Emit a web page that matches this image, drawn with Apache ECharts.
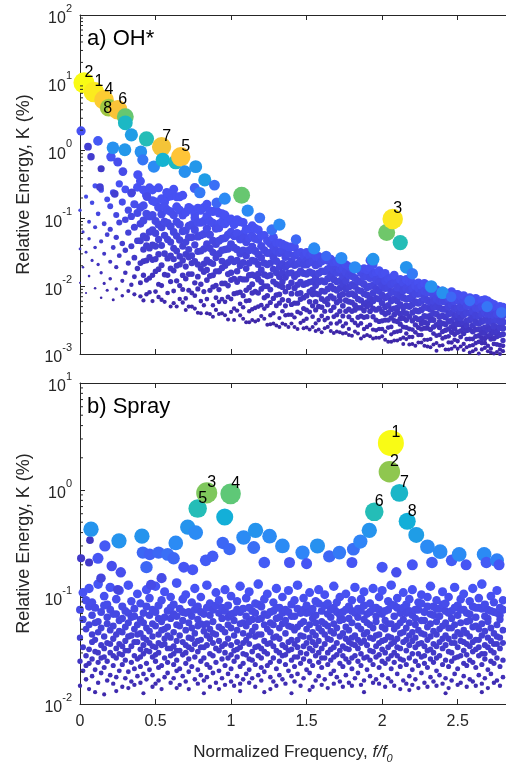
<!DOCTYPE html>
<html><head><meta charset="utf-8">
<script src="https://cdn.jsdelivr.net/npm/echarts@6/dist/echarts.min.js"></script>
<style>html,body{margin:0;padding:0;background:#fff}#c{width:506px;height:766px}</style>
</head><body><div id="c"></div>
<script>
// ---------------- DATA ----------------
const panelTitles = ['a) OH*', 'b) Spray'];
const xTickLabels = ['0', '0.5', '1', '1.5', '2', '2.5'];
const freqResolution = 0.02; // spectral bin width of the mode cloud (f/f0)

// OH*: log10 of mode energy (%) per frequency bin (bin i at f = i*freqResolution)
const ohCloudLogE = [
[-0.88,-1.45,-1.95],[-1.2,-1.72],[-0.68,-1.5,-2.1],[-1.05,-1.3,-1.85],[-0.77,-1.62],[-0.52,-1.13,-1.43,-2.03],[-0.93,-1.68],[-0.58,-1.34,-1.8,-2.17],[-1.08,-1.52,-1.96],[-0.72,-1.24,-2.06],
[-0.82,-1.16,-1.64,-1.89],[-0.62,-1.43,-2.2],[-0.95,-1.28,-1.72,-2.04],[-0.49,-1.06,-1.55],[-0.76,-1.37,-1.92,-2.14],[-0.57,-1.02,-1.47,-1.8],[-0.88,-1.21,-1.66,-2.07],[-0.63,-0.97,-1.41,-1.98],[-0.79,-1.13,-1.58,-1.86,-2.12],[-0.54,-0.92,-1.33,-1.74],
[-0.45,-0.84,-1.08,-1.33,-1.66,-1.95,-2.15],[-0.58,-0.81,-1.26,-1.46,-1.84,-2.21,-1.03,-1.63],[-0.65,-0.93,-1.29,-1.4,-1.91,-1.62,-2.12],[-0.55,-0.97,-1.44,-1.57,-1.88,-2.09,-1.2],[-0.58,-0.74,-1.17,-1.61,-1.84,-2.22,-1.39,-0.95],[-0.76,-1.04,-1.41,-1.78,-2.08,-1.22,-1.6],[-0.55,-0.84,-1.09,-1.53,-1.75,-2.16,-1.31,-1.97],[-0.71,-0.94,-1.13,-1.69,-1.99,-1.4,-2.2],[-0.76,-0.83,-1.25,-1.83,-2.23,-1.05,-1.52],[-0.68,-1.07,-1.31,-1.59,-2.1,-1.84,-0.88],
[-0.67,-0.9,-1.35,-1.55,-1.93,-2.3,-1.12,-1.74],[-0.57,-0.95,-1.2,-1.44,-1.77,-2.07,-1.6,-2.25],[-0.68,-0.83,-1.26,-1.7,-1.92,-2.3,-1.05,-1.48],[-0.68,-1.09,-1.56,-1.68,-1.99,-2.19,-1.32,-0.88],[-0.66,-0.95,-1.19,-1.62,-1.84,-2.24,-1.41,-2.05],[-0.91,-1.18,-1.53,-1.89,-2.18,-1.35,-1.71,-2.35],[-0.84,-1.11,-1.46,-1.57,-2.06,-1.28,-1.82,-2.3],[-0.87,-1.09,-1.28,-1.82,-2.1,-1.55,-1.66,-2.3],[-0.93,-0.99,-1.39,-1.95,-2.33,-1.17,-1.63,-2.14],[-0.85,-1.06,-1.49,-1.68,-2.04,-2.39,-1.27,-1.86],
[-0.88,-1.25,-1.48,-1.74,-2.22,-1.06,-1.97,-2.4],[-0.84,-1.23,-1.67,-1.79,-2.08,-2.28,-1.04,-1.45],[-0.79,-1.15,-1.38,-1.61,-1.91,-2.19,-0.97,-1.76,-2.4],[-0.89,-1.04,-1.44,-1.85,-2.06,-2.41,-1.24,-1.65],[-1.07,-1.33,-1.67,-2.01,-2.28,-0.9,-1.5,-1.84,-2.45],[-0.88,-1.15,-1.38,-1.78,-1.99,-2.35,-1.58,-2.17],[-1.08,-1.14,-1.52,-2.05,-2.41,-0.92,-1.33,-1.78,-2.23],[-1.05,-1.3,-1.63,-1.73,-2.19,-0.93,-1.47,-1.96,-2.4],[-1.08,-1.29,-1.46,-1.96,-2.23,-0.95,-1.7,-2.43],[-1.04,-1.24,-1.65,-1.82,-2.16,-2.49,-1.45,-1.99],
[-1.01,-1.38,-1.8,-1.91,-2.19,-2.38,-1.2,-1.6],[-1.09,-1.43,-1.64,-1.89,-2.33,-1.26,-2.11,-2.5],[-1.22,-1.46,-1.78,-2.1,-2.36,-1.02,-1.62,-1.94],[-1.05,-1.31,-1.52,-1.89,-2.09,-2.43,-1.7,-2.26],[-1.23,-1.29,-1.65,-2.14,-2.48,-1.06,-1.47,-1.9,-2.31],[-1.16,-1.35,-1.74,-1.9,-2.22,-2.53,-1.55,-2.06],[-1.16,-1.29,-1.66,-2.02,-2.21,-2.53,-1.47,-1.84,-2.37],[-1.11,-1.42,-1.62,-1.83,-2.1,-2.34,-1.26,-1.97,-2.5],[-1.3,-1.48,-1.63,-2.08,-2.32,-1.15,-1.85,-2.52],[-1.31,-1.53,-1.82,-1.9,-2.3,-1.17,-1.68,-2.1,-2.5],
[-1.25,-1.58,-1.94,-2.04,-2.28,-2.44,-1.41,-1.76],[-1.25,-1.47,-1.66,-2.0,-2.17,-2.48,-1.83,-2.33],[-1.33,-1.51,-1.85,-2.0,-2.29,-2.57,-1.68,-2.14],[-1.37,-1.66,-1.84,-2.05,-2.43,-1.51,-2.24,-2.56],[-1.28,-1.57,-1.75,-1.93,-2.18,-2.4,-1.42,-2.55],[-1.36,-1.48,-1.8,-2.13,-2.29,-2.58,-1.63,-1.97],[-1.51,-1.72,-1.99,-2.25,-2.47,-1.36,-1.86,-2.12,-2.6],[-1.47,-1.67,-1.93,-2.01,-2.37,-1.38,-1.8,-2.2,-2.55],[-1.52,-1.57,-1.87,-2.29,-2.57,-1.4,-1.72,-2.08,-2.43],[-1.52,-1.68,-1.81,-2.21,-2.42,-1.42,-2.01,-2.6],
[-1.42,-1.63,-1.8,-2.11,-2.27,-2.55,-1.95,-2.42],[-1.42,-1.69,-1.86,-2.03,-2.25,-2.46,-1.55,-2.6],[-1.51,-1.67,-1.98,-2.11,-2.38,-2.63,-1.82,-2.25],[-1.5,-1.78,-2.1,-2.19,-2.4,-2.54,-1.62,-1.94],[-1.55,-1.81,-1.98,-2.17,-2.51,-1.68,-2.33,-2.62],[-1.63,-1.68,-1.96,-2.35,-2.61,-1.82,-2.14,-2.48,-1.5],[-1.55,-1.65,-1.94,-2.23,-2.38,-2.64,-1.79,-2.08],[-1.63,-1.81,-2.05,-2.12,-2.45,-1.52,-1.93,-2.29,-2.6],[-1.69,-1.87,-2.11,-2.35,-2.55,-1.56,-1.99,-2.23,-2.66],[-1.67,-1.81,-1.94,-2.3,-2.5,-2.12,-2.64,-1.56],
[-1.63,-1.78,-2.07,-2.19,-2.44,-2.68,-1.92,-2.31],[-1.59,-1.78,-1.94,-2.22,-2.37,-2.62,-2.08,-2.5],[-1.62,-1.89,-2.19,-2.27,-2.47,-2.6,-1.75,-2.04],[-1.6,-1.84,-2.0,-2.15,-2.36,-2.55,-1.72,-2.66],[-1.66,-1.76,-2.04,-2.31,-2.45,-2.69,-1.9,-2.18],[-1.76,-1.8,-2.06,-2.42,-2.67,-1.63,-1.93,-2.24,-2.55],[-1.75,-1.92,-2.14,-2.21,-2.52,-1.66,-2.03,-2.37,-2.68],[-1.73,-1.97,-2.12,-2.29,-2.59,-1.85,-2.44,-2.7],[-1.79,-1.92,-2.04,-2.37,-2.55,-1.68,-2.21,-2.69],[-1.84,-2.01,-2.23,-2.45,-2.63,-1.71,-2.12,-2.34,-2.72],
[-1.75,-1.85,-2.11,-2.37,-2.5,-2.73,-1.98,-2.24],[-1.75,-2.0,-2.28,-2.35,-2.54,-2.67,-1.88,-2.14],[-1.74,-1.92,-2.06,-2.32,-2.46,-2.7,-2.19,-2.58],[-1.8,-1.94,-2.21,-2.32,-2.55,-2.77,-2.07,-2.44],[-1.74,-1.97,-2.11,-2.26,-2.46,-2.63,-1.86,-2.36,-2.74],[-1.85,-2.02,-2.24,-2.3,-2.6,-1.76,-2.13,-2.45,-2.72],[-1.73,-1.88,-2.0,-2.37,-2.57,-2.18,-2.27,-2.74,-1.62],[-1.82,-1.99,-2.22,-2.45,-2.64,-1.68,-2.1,-2.33,-2.77],[-1.8,-2.04,-2.18,-2.35,-2.65,-1.91,-2.5,-2.76],[-1.9,-1.94,-2.19,-2.52,-2.76,-1.77,-2.07,-2.33,-2.63],
[-1.82,-1.99,-2.13,-2.38,-2.51,-2.74,-2.25,-2.63],[-1.81,-2.03,-2.17,-2.31,-2.5,-2.67,-1.92,-2.41,-2.79],[-1.89,-2.02,-2.28,-2.39,-2.61,-2.82,-2.15,-2.5],[-1.88,-1.97,-2.22,-2.47,-2.6,-2.82,-2.09,-2.34,-2.71],[-1.95,-2.08,-2.19,-2.51,-2.68,-1.84,-2.33,-2.42,-2.8],[-1.95,-2.11,-2.32,-2.38,-2.67,-2.02,-2.22,-2.52,-2.8],[-1.9,-2.14,-2.41,-2.48,-2.66,-2.78,-2.02,-2.27,-2.56],[-1.95,-2.17,-2.31,-2.47,-2.76,-2.06,-2.39,-2.6,-2.85],[-2.03,-2.19,-2.4,-2.61,-2.78,-1.9,-2.29,-2.5,-2.7],[-2.02,-2.06,-2.3,-2.63,-2.86,-1.93,-2.18,-2.45,-2.75],
[-1.95,-2.03,-2.27,-2.51,-2.64,-2.85,-2.15,-2.39,-2.75],[-1.99,-2.11,-2.36,-2.47,-2.68,-2.88,-2.23,-2.57],[-1.95,-2.11,-2.25,-2.49,-2.61,-2.83,-2.37,-2.72,-2.03],[-1.99,-2.22,-2.48,-2.55,-2.72,-2.83,-2.1,-2.35,-2.63],[-1.96,-2.17,-2.31,-2.44,-2.62,-2.79,-2.07,-2.53,-2.88],[-2.09,-2.21,-2.32,-2.62,-2.79,-1.99,-2.45,-2.55,-2.89],[-2.09,-2.24,-2.44,-2.5,-2.78,-2.0,-2.34,-2.64,-2.9],[-2.14,-2.3,-2.5,-2.7,-2.86,-2.03,-2.22,-2.4,-2.6],[-2.14,-2.18,-2.41,-2.73,-2.95,-2.05,-2.3,-2.57,-2.84],[-2.11,-2.32,-2.45,-2.61,-2.88,-2.22,-2.53,-2.72],
[-2.07,-2.22,-2.34,-2.55,-2.67,-2.87,-2.44,-2.77],[-2.12,-2.23,-2.46,-2.56,-2.75,-2.93,-2.34,-2.65],[-2.11,-2.19,-2.41,-2.63,-2.74,-2.93,-2.3,-2.52,-2.83],[-2.08,-2.27,-2.39,-2.51,-2.68,-2.83,-2.17,-2.6,-2.92],[-2.12,-2.33,-2.57,-2.63,-2.79,-2.89,-2.22,-2.45,-2.71],[-2.19,-2.33,-2.51,-2.56,-2.81,-2.12,-2.42,-2.68,-2.92],[-2.24,-2.38,-2.56,-2.75,-2.89,-2.15,-2.31,-2.47,-2.66],[-2.22,-2.33,-2.42,-2.7,-2.85,-2.14,-2.55,-2.62,-2.94],[-2.2,-2.39,-2.51,-2.65,-2.9,-2.29,-2.58,-2.78],[-2.25,-2.29,-2.5,-2.78,-2.98,-2.17,-2.4,-2.64,-2.88],
[-2.19,-2.26,-2.47,-2.67,-2.78,-2.96,-2.37,-2.58,-2.87],[-2.18,-2.32,-2.43,-2.64,-2.74,-2.93,-2.53,-2.84],[-2.23,-2.33,-2.55,-2.64,-2.82,-2.99,-2.44,-2.73],[-2.21,-2.41,-2.63,-2.69,-2.84,-2.93,-2.3,-2.52,-2.77],[-2.2,-2.38,-2.5,-2.61,-2.77,-2.91,-2.29,-2.69,-2.84],[-2.29,-2.42,-2.6,-2.64,-2.88,-2.22,-2.51,-2.74,-2.96],[-2.32,-2.43,-2.52,-2.78,-2.92,-2.25,-2.64,-2.71,-2.98],[-2.37,-2.5,-2.68,-2.85,-2.99,-2.27,-2.43,-2.59,-2.77],[-2.32,-2.5,-2.61,-2.74,-2.97,-2.41,-2.67,-2.86],[-2.38,-2.42,-2.61,-2.87,-3.0,-2.3,-2.52,-2.72,-2.93],
[-2.31,-2.43,-2.53,-2.71,-2.8,-2.96,-2.62,-2.88]
];

// Spray: log10 of mode energy (%) per frequency bin
const spCloudLogE = [
[-1.12,-1.38,-1.6,-1.83],[-0.96,-1.21,-1.47,-1.69],[-1.03,-1.3,-1.55,-1.64,-1.77],[-0.92,-1.09,-1.26,-1.49,-1.62,-1.86],[-1.05,-1.17,-1.35,-1.42,-1.58,-1.74],[-1.1,-1.24,-1.4,-1.51,-1.68,-1.89],[-0.88,-1.23,-1.33,-1.52,-1.61,-1.8],[-1.14,-1.29,-1.45,-1.57,-1.71],[-0.99,-1.08,-1.37,-1.48,-1.56,-1.66,-1.91],[-1.07,-1.19,-1.25,-1.43,-1.6,-1.78],
[-0.91,-1.12,-1.31,-1.44,-1.52,-1.73],[-1.16,-1.27,-1.39,-1.55,-1.64,-1.81],[-1.02,-1.16,-1.35,-1.48,-1.57,-1.75,-1.88],[-0.94,-1.22,-1.32,-1.44,-1.53,-1.69],[-1.09,-1.2,-1.33,-1.46,-1.54,-1.63,-1.84],[-1.13,-1.28,-1.41,-1.5,-1.59,-1.76],[-0.89,-1.15,-1.24,-1.37,-1.5,-1.7,-1.85],[-1.04,-1.19,-1.36,-1.46,-1.61,-1.79],[-1.11,-1.18,-1.3,-1.42,-1.55,-1.67,-1.82],[-0.97,-1.26,-1.35,-1.42,-1.58,-1.74],
[-1.06,-1.21,-1.34,-1.49,-1.56,-1.65,-1.8],[-1.15,-1.24,-1.38,-1.45,-1.53,-1.72,-1.9],[-0.93,-1.09,-1.29,-1.4,-1.5,-1.62,-1.77],[-1.01,-1.17,-1.32,-1.43,-1.51,-1.68],[-1.12,-1.25,-1.37,-1.46,-1.56,-1.73,-1.84],[-0.9,-1.14,-1.27,-1.47,-1.54,-1.6,-1.81],[-1.08,-1.2,-1.35,-1.43,-1.52,-1.66,-1.78],[-1.03,-1.23,-1.31,-1.45,-1.64,-1.86],[-0.95,-1.19,-1.3,-1.39,-1.44,-1.57,-1.75],[-1.13,-1.28,-1.36,-1.48,-1.61,-1.71],
[-1.0,-1.1,-1.2,-1.38,-1.48,-1.55,-1.8],[-1.07,-1.16,-1.33,-1.46,-1.53,-1.63,-1.76],[-0.87,-1.18,-1.26,-1.41,-1.5,-1.59,-1.69,-1.85],[-1.11,-1.27,-1.36,-1.5,-1.67,-1.82],[-1.02,-1.14,-1.22,-1.42,-1.54,-1.74],[-0.98,-1.15,-1.31,-1.45,-1.52,-1.62,-1.79],[-1.14,-1.24,-1.38,-1.47,-1.58,-1.7,-1.86],[-1.05,-1.18,-1.29,-1.39,-1.49,-1.65],[-0.92,-1.12,-1.34,-1.44,-1.56,-1.77],[-1.09,-1.21,-1.27,-1.41,-1.51,-1.68,-1.81],
[-1.0,-1.14,-1.25,-1.4,-1.47,-1.6,-1.73],[-1.16,-1.26,-1.32,-1.47,-1.57,-1.78,-1.9],[-0.89,-1.1,-1.25,-1.36,-1.45,-1.63,-1.75],[-1.06,-1.17,-1.3,-1.39,-1.53,-1.66,-1.84],[-1.12,-1.23,-1.34,-1.43,-1.55,-1.71],[-0.96,-1.08,-1.35,-1.48,-1.61,-1.8],[-1.03,-1.15,-1.28,-1.41,-1.5,-1.69,-1.86],[-1.1,-1.2,-1.3,-1.46,-1.58,-1.76],[-0.93,-1.13,-1.33,-1.44,-1.52,-1.64,-1.82],[-1.08,-1.19,-1.26,-1.39,-1.57,-1.72],
[-0.99,-1.16,-1.29,-1.45,-1.54,-1.67,-1.79],[-1.15,-1.22,-1.36,-1.5,-1.6,-1.83],[-1.04,-1.12,-1.31,-1.42,-1.49,-1.56,-1.74],[-0.9,-1.14,-1.25,-1.47,-1.65,-1.81,-1.88],[-1.11,-1.24,-1.34,-1.43,-1.53,-1.62,-1.77],[-1.01,-1.18,-1.27,-1.4,-1.54,-1.72],[-0.95,-1.1,-1.23,-1.36,-1.44,-1.58,-1.68,-1.8],[-1.13,-1.21,-1.32,-1.51,-1.59,-1.76],[-1.06,-1.15,-1.28,-1.37,-1.47,-1.63,-1.84],[-0.88,-1.07,-1.21,-1.35,-1.46,-1.55,-1.73],
[-1.09,-1.2,-1.35,-1.48,-1.57,-1.66,-1.78],[-1.02,-1.16,-1.26,-1.41,-1.51,-1.7,-1.89],[-0.97,-1.17,-1.3,-1.44,-1.53,-1.64],[-1.14,-1.24,-1.33,-1.43,-1.61,-1.75,-1.86],[-1.05,-1.13,-1.26,-1.38,-1.46,-1.57,-1.79],[-0.92,-1.1,-1.2,-1.37,-1.5,-1.67,-1.83],[-1.1,-1.19,-1.29,-1.39,-1.52,-1.6,-1.73],[-1.0,-1.15,-1.25,-1.45,-1.55,-1.77],[-1.12,-1.22,-1.34,-1.47,-1.54,-1.63,-1.81],[-0.94,-1.14,-1.27,-1.42,-1.5,-1.69],
[-1.07,-1.18,-1.28,-1.4,-1.49,-1.59,-1.74,-1.9],[-1.03,-1.18,-1.31,-1.44,-1.56,-1.65,-1.79],[-0.89,-1.11,-1.28,-1.4,-1.47,-1.56,-1.72],[-1.15,-1.25,-1.36,-1.52,-1.62,-1.83],[-1.01,-1.12,-1.23,-1.37,-1.46,-1.58,-1.76],[-1.08,-1.15,-1.3,-1.43,-1.53,-1.68],[-0.96,-1.14,-1.26,-1.38,-1.48,-1.6,-1.71,-1.87],[-1.11,-1.2,-1.33,-1.42,-1.5,-1.64,-1.84],[-1.04,-1.17,-1.24,-1.36,-1.45,-1.55,-1.78],[-0.93,-1.06,-1.29,-1.41,-1.52,-1.61,-1.74],
[-1.13,-1.23,-1.32,-1.48,-1.57,-1.66,-1.82],[-0.98,-1.08,-1.25,-1.35,-1.44,-1.57,-1.77],[-1.06,-1.16,-1.27,-1.39,-1.52,-1.63,-1.85],[-1.12,-1.19,-1.32,-1.4,-1.49,-1.59,-1.72],[-0.9,-1.1,-1.25,-1.34,-1.47,-1.56,-1.69,-1.81],[-1.05,-1.14,-1.29,-1.43,-1.54,-1.75],[-1.0,-1.17,-1.22,-1.37,-1.5,-1.62,-1.79],[-1.14,-1.21,-1.34,-1.46,-1.55,-1.65,-1.84],[-0.97,-1.12,-1.28,-1.39,-1.48,-1.58,-1.73],[-1.09,-1.2,-1.31,-1.42,-1.49,-1.61,-1.8],
[-1.03,-1.13,-1.24,-1.38,-1.44,-1.57,-1.67,-1.83],[-0.91,-1.15,-1.36,-1.45,-1.55,-1.76],[-1.11,-1.19,-1.27,-1.4,-1.48,-1.6,-1.71],[-1.02,-1.13,-1.3,-1.43,-1.53,-1.64,-1.82],[-0.95,-1.08,-1.21,-1.35,-1.41,-1.57,-1.78,-1.89],[-1.16,-1.24,-1.33,-1.45,-1.56,-1.68],[-1.06,-1.14,-1.26,-1.38,-1.5,-1.59,-1.74],[-0.92,-1.11,-1.29,-1.39,-1.51,-1.63,-1.8],[-1.1,-1.18,-1.23,-1.36,-1.46,-1.56,-1.77],[-1.0,-1.12,-1.35,-1.43,-1.54,-1.66,-1.81],
[-0.94,-1.16,-1.28,-1.41,-1.49,-1.6,-1.73],[-1.13,-1.22,-1.3,-1.4,-1.52,-1.62,-1.84],[-1.04,-1.12,-1.25,-1.37,-1.47,-1.58,-1.76],[-0.89,-1.07,-1.25,-1.38,-1.44,-1.55,-1.67,-1.79],[-1.08,-1.18,-1.3,-1.42,-1.52,-1.61,-1.83],[-1.01,-1.1,-1.27,-1.39,-1.47,-1.55,-1.72],[-1.15,-1.24,-1.34,-1.48,-1.58,-1.65,-1.86],[-0.96,-1.1,-1.21,-1.33,-1.42,-1.59,-1.78],[-1.07,-1.15,-1.29,-1.4,-1.5,-1.63,-1.81],[-1.02,-1.13,-1.24,-1.36,-1.45,-1.57,-1.74,-1.87],
[-0.93,-1.17,-1.33,-1.41,-1.53,-1.68,-1.82],[-1.12,-1.2,-1.26,-1.38,-1.47,-1.6,-1.77],[-1.05,-1.12,-1.31,-1.44,-1.53,-1.64,-1.85],[-0.98,-1.06,-1.22,-1.34,-1.43,-1.56,-1.71],[-1.14,-1.22,-1.35,-1.46,-1.55,-1.62,-1.8],[-1.0,-1.09,-1.28,-1.4,-1.5,-1.66,-1.84],[-0.9,-1.16,-1.25,-1.37,-1.49,-1.58,-1.75],[-1.09,-1.17,-1.32,-1.44,-1.52,-1.61,-1.79],[-1.03,-1.11,-1.23,-1.35,-1.46,-1.57,-1.69,-1.83],[-1.11,-1.18,-1.3,-1.42,-1.55,-1.73],
[-0.95,-1.07,-1.27,-1.39,-1.48,-1.63,-1.81],[-1.06,-1.13,-1.24,-1.36,-1.45,-1.59,-1.76,-1.9],[-1.0,-1.15,-1.29,-1.39,-1.51,-1.65,-1.85],[-1.13,-1.2,-1.29,-1.43,-1.52,-1.6,-1.78],[-0.91,-1.1,-1.26,-1.37,-1.43,-1.57,-1.72],[-1.08,-1.17,-1.33,-1.47,-1.56,-1.67,-1.82],[-1.02,-1.12,-1.24,-1.35,-1.41,-1.55,-1.8],[-0.97,-1.12,-1.31,-1.42,-1.5,-1.62,-1.74],[-1.15,-1.23,-1.34,-1.44,-1.54,-1.64,-1.84],[-1.04,-1.16,-1.22,-1.37,-1.46,-1.59,-1.77],
[-0.92,-1.09,-1.28,-1.42,-1.51,-1.61,-1.79],[-1.1,-1.19,-1.27,-1.4,-1.49,-1.66,-1.83],[-1.01,-1.1,-1.3,-1.4,-1.47,-1.55,-1.73],[-0.88,-1.11,-1.25,-1.36,-1.53,-1.63,-1.81,-1.89],[-1.07,-1.18,-1.32,-1.45,-1.53,-1.58,-1.76],[-1.12,-1.2,-1.23,-1.38,-1.47,-1.68,-1.85],[-0.99,-1.13,-1.29,-1.41,-1.5,-1.6,-1.72],[-1.05,-1.14,-1.34,-1.44,-1.52,-1.62,-1.8],[-0.94,-1.15,-1.26,-1.37,-1.44,-1.57,-1.78],[-1.1,-1.17,-1.21,-1.38,-1.48,-1.65,-1.83],
[-1.03,-1.12,-1.31,-1.43,-1.59,-1.75]
];

// Leading / highlighted modes: frequency, energy (%), colour value (0-1)
const ohLeadF = [0.007,0.026,0.053,0.073,0.092,0.119,0.132,0.14,0.159,0.19,0.205,0.218,0.23,0.25,0.25,0.284,0.297,0.30,0.30,0.34,0.343,0.383,0.403,0.416,0.44,0.443,0.489,0.54,0.548,0.575,0.634,0.667,0.694,0.76,0.766,0.793,0.826,0.89,0.905,0.958,1.07,1.11,1.19,1.27,1.32,1.43,1.55,1.63,1.73,1.82,1.94,2.03,2.07,2.12,2.16,2.20,2.325,2.40,2.457,2.58,2.695,2.79];
const ohLeadE = [1.95,10.0,1.14,0.81,7.3,1.39,0.29,0.54,5.6,4.3,0.81,1.1,0.23,4.0,0.68,0.49,1.03,3.15,2.57,1.71,0.24,0.44,0.96,0.73,1.49,0.21,0.58,1.14,0.73,0.24,0.68,0.81,0.49,0.28,0.58,0.24,0.37,0.31,0.17,0.195,0.22,0.13,0.102,0.068,0.081,0.049,0.036,0.028,0.026,0.019,0.025,0.062,0.098,0.044,0.019,0.0153,0.0099,0.008,0.007,0.0061,0.005,0.0041];
const ohLeadC = [0.14,1.0,0.08,0.07,0.96,0.16,0.08,0.06,0.88,0.70,0.15,0.32,0.08,0.85,0.13,0.12,0.34,0.63,0.47,0.36,0.10,0.14,0.32,0.24,0.50,0.12,0.30,0.84,0.44,0.14,0.47,0.86,0.32,0.18,0.34,0.25,0.36,0.22,0.20,0.30,0.63,0.30,0.22,0.22,0.30,0.20,0.30,0.20,0.30,0.30,0.33,0.64,0.95,0.50,0.33,0.25,0.32,0.32,0.20,0.22,0.24,0.22];
const ohModeAt = {1:2, 4:1, 8:4, 9:8, 13:6, 27:7, 31:5, 52:3}; // lead index -> mode number

const spLeadF = [0.007,0.06,0.066,0.073,0.119,0.139,0.165,0.21,0.25,0.258,0.27,0.41,0.416,0.44,0.462,0.47,0.52,0.54,0.58,0.62,0.634,0.687,0.713,0.746,0.766,0.779,0.832,0.839,0.878,0.945,0.958,0.99,0.997,1.083,1.15,1.162,1.22,1.255,1.34,1.387,1.473,1.5,1.572,1.65,1.717,1.80,1.81,1.856,1.915,1.948,2.0,2.058,2.048,2.094,2.114,2.166,2.2,2.226,2.30,2.33,2.384,2.46,2.51,2.556,2.675,2.69,2.76,2.774];
const spLeadE = [0.23,0.21,0.34,0.43,0.23,0.15,0.30,0.195,0.117,0.335,0.17,0.37,0.26,0.19,0.25,0.13,0.26,0.15,0.25,0.23,0.32,0.19,0.45,0.18,0.40,0.67,0.22,0.94,0.24,0.32,0.56,0.28,0.92,0.36,0.29,0.42,0.21,0.37,0.30,0.21,0.26,0.205,0.30,0.24,0.26,0.21,0.28,0.33,0.42,0.625,0.19,2.75,1.48,0.17,0.94,0.51,0.20,0.38,0.295,0.21,0.265,0.22,0.25,0.20,0.25,0.21,0.22,0.20];
const spLeadC = [0.06,0.06,0.05,0.33,0.15,0.10,0.16,0.13,0.10,0.33,0.13,0.33,0.20,0.20,0.18,0.12,0.20,0.12,0.22,0.20,0.30,0.15,0.33,0.15,0.30,0.50,0.17,0.66,0.17,0.20,0.42,0.20,0.62,0.30,0.22,0.33,0.17,0.30,0.30,0.15,0.28,0.15,0.32,0.20,0.25,0.15,0.22,0.28,0.33,0.50,0.15,1.0,0.68,0.13,0.46,0.42,0.15,0.36,0.30,0.17,0.30,0.17,0.30,0.15,0.30,0.17,0.27,0.15];
const spModeAt = {25:5, 27:3, 32:4, 49:6, 51:1, 52:2, 54:7, 55:8};

// ---------------- STYLE / HELPERS ----------------
const FONT = "'Liberation Sans', Arial, Helvetica, sans-serif";
const AX = '#262626';
const PARULA = [[0.2422,0.1504,0.6603],[0.2810,0.3228,0.9579],[0.1786,0.5289,0.9682],[0.0689,0.6948,0.8394],[0.2161,0.7843,0.5923],[0.6720,0.7793,0.2227],[0.9970,0.7659,0.2199],[0.9769,0.9839,0.0805]];
function parula(c) {
  c = Math.max(0, Math.min(1, c));
  const s = c * (PARULA.length - 1), i = Math.min(PARULA.length - 2, Math.floor(s)), t = s - i;
  const a = PARULA[i], b = PARULA[i + 1];
  const r = x => Math.round(255 * x);
  return 'rgb(' + r(a[0] + (b[0]-a[0])*t) + ',' + r(a[1] + (b[1]-a[1])*t) + ',' + r(a[2] + (b[2]-a[2])*t) + ')';
}
function clamp(v, a, b) { return Math.max(a, Math.min(b, v)); }
function ohCloudT(f, E) {
  const lo = -2.15 - 0.3 * f, hi = -0.4 - 0.68 * f;
  return clamp((Math.log10(E) - lo) / (hi - lo), 0, 1);
}
function ohCloudSize(f, E) {
  let s = 4 + 5 * ohCloudT(f, E);
  if (f < 0.4) s *= 0.45 + 0.55 * f / 0.4;
  return s;
}
function spCloudC(E) { return clamp((Math.log10(E) + 1.95) * 0.14, 0, 0.16); }

function cloudData(cols) {
  const out = [];
  cols.forEach((col, i) => col.forEach(v => out.push([+(i * freqResolution).toFixed(2), +Math.pow(10, v).toPrecision(3)])));
  return out;
}
function leadData(F, E, C, modeAt, defOffset, offsets) {
  return F.map((f, i) => {
    const m = modeAt[i] || 0;
    const item = { value: [f, E[i], C[i], m] };
    if (m) item.label = { show: true, offset: offsets[m] || defOffset };
    return item;
  });
}
function minorTicks(lo, hi) {
  const out = [];
  for (let d = lo; d < hi; d++) for (let k = 2; k <= 9; k++) out.push([0, +(k * Math.pow(10, d)).toPrecision(3)]);
  return out;
}
const labelStyle = { show: false, position: 'inside', formatter: p => p.value[3] ? String(p.value[3]) : '', fontSize: 16, color: '#000', fontFamily: FONT };

const yLabel = {
  formatter: v => '{b|10}{s|' + Math.round(Math.log10(v)) + '}',
  margin: 8,
  rich: {
    b: { fontSize: 16, color: AX, fontFamily: FONT, lineHeight: 24, verticalAlign: 'bottom' },
    s: { fontSize: 11, color: AX, fontFamily: FONT, lineHeight: 24, verticalAlign: 'top' }
  }
};
function xAxisDef(grid, pos, labels, name) {
  return {
    type: 'value', gridIndex: grid, position: pos, min: 0, max: 2.82, interval: 0.5,
    axisLine: { show: true, onZero: false, lineStyle: { color: AX, width: 1 } },
    axisTick: { show: true, inside: true, length: 5, lineStyle: { color: AX } },
    splitLine: { show: false },
    axisLabel: labels ? { show: true, showMaxLabel: false, fontSize: 16, color: AX, fontFamily: FONT, margin: 10,
      formatter: v => { const k = Math.round(v / 0.5); return Math.abs(v - k * 0.5) < 1e-6 ? xTickLabels[k] : ''; } } : { show: false },
    name: name || '', nameLocation: 'middle', nameGap: 36,
    nameTextStyle: { rich: {
      n: { fontSize: 17, color: AX, fontFamily: FONT, lineHeight: 24, verticalAlign: 'middle' },
      i: { fontSize: 17, color: AX, fontFamily: FONT, fontStyle: 'italic', lineHeight: 24, verticalAlign: 'middle' },
      sub: { fontSize: 11, color: AX, fontFamily: FONT, fontStyle: 'italic', lineHeight: 11, verticalAlign: 'bottom' }
    } }
  };
}
function yAxisDef(grid, min, max) {
  return {
    type: 'log', logBase: 10, gridIndex: grid, min: min, max: max, position: 'left',
    axisLine: { show: true, onZero: false, lineStyle: { color: AX, width: 1 } },
    axisTick: { show: true, inside: true, length: 5, lineStyle: { color: AX } },
    splitLine: { show: false }, minorTick: { show: false },
    axisLabel: yLabel,
    name: 'Relative Energy, K (%)', nameLocation: 'middle', nameGap: 46,
    nameTextStyle: { fontSize: 18, color: AX, fontFamily: FONT }
  };
}
function minorTickSeries(xi, yi, data) {
  return {
    type: 'custom', xAxisIndex: xi, yAxisIndex: yi, data: data, silent: true, z: 5, clip: false,
    renderItem: (params, api) => {
      const p = api.coord([0, api.value(1)]);
      return { type: 'line', shape: { x1: p[0], y1: p[1], x2: p[0] + 3, y2: p[1] }, style: { stroke: AX, lineWidth: 1 } };
    }
  };
}

const chart = echarts.init(document.getElementById('c'), null, { renderer: 'canvas' });
chart.setOption({
  animation: false,
  backgroundColor: '#fff',
  textStyle: { fontFamily: FONT },
  title: [
    { text: panelTitles[0], left: 87, top: 28, padding: 0, textStyle: { fontSize: 22, fontWeight: 'normal', color: '#000', fontFamily: FONT } },
    { text: panelTitles[1], left: 87, top: 396, padding: 0, textStyle: { fontSize: 22, fontWeight: 'normal', color: '#000', fontFamily: FONT } }
  ],
  grid: [
    { left: 80, top: 15, width: 427, height: 339, containLabel: false },
    { left: 80, top: 383, width: 427, height: 321, containLabel: false }
  ],
  xAxis: [
    xAxisDef(0, 'bottom', false),
    xAxisDef(0, 'top', false),
    xAxisDef(1, 'bottom', true, '{n|Normalized Frequency, }{i|f/f}{sub|0}'),
    xAxisDef(1, 'top', false)
  ],
  yAxis: [ yAxisDef(0, 0.001, 100), yAxisDef(1, 0.01, 10) ],
  series: [
    {
      type: 'scatter', xAxisIndex: 0, yAxisIndex: 0, clip: false, silent: true, z: 2, large: false,
      data: cloudData(ohCloudLogE),
      symbolSize: v => ohCloudSize(v[0], v[1]),
      itemStyle: { opacity: 1, color: p => parula(0.14 * ohCloudT(p.value[0], p.value[1])) }
    },
    {
      type: 'scatter', xAxisIndex: 0, yAxisIndex: 0, clip: false, silent: true, z: 3,
      data: leadData(ohLeadF, ohLeadE, ohLeadC, ohModeAt, [5, -10], { 8: [-1, 1] }),
      symbolSize: v => 4 + 17 * Math.pow(v[2], 0.6),
      itemStyle: { opacity: 1, color: p => parula(p.value[2]) },
      label: labelStyle
    },
    {
      type: 'scatter', xAxisIndex: 2, yAxisIndex: 1, clip: false, silent: true, z: 2, large: false,
      data: cloudData(spCloudLogE),
      symbolSize: v => 20 * Math.pow(v[1], 0.36),
      itemStyle: { opacity: 1, color: p => parula(spCloudC(p.value[1])) }
    },
    {
      type: 'scatter', xAxisIndex: 2, yAxisIndex: 1, clip: false, silent: true, z: 3,
      data: leadData(spLeadF, spLeadE, spLeadC, spModeAt, [5, -10], {}),
      symbolSize: v => 4 + 22 * Math.pow(v[2], 0.6),
      itemStyle: { opacity: 1, color: p => parula(p.value[2]) },
      label: labelStyle
    },
    minorTickSeries(0, 0, minorTicks(-3, 2)),
    minorTickSeries(2, 1, minorTicks(-2, 1))
  ]
});
</script>
</body></html>
